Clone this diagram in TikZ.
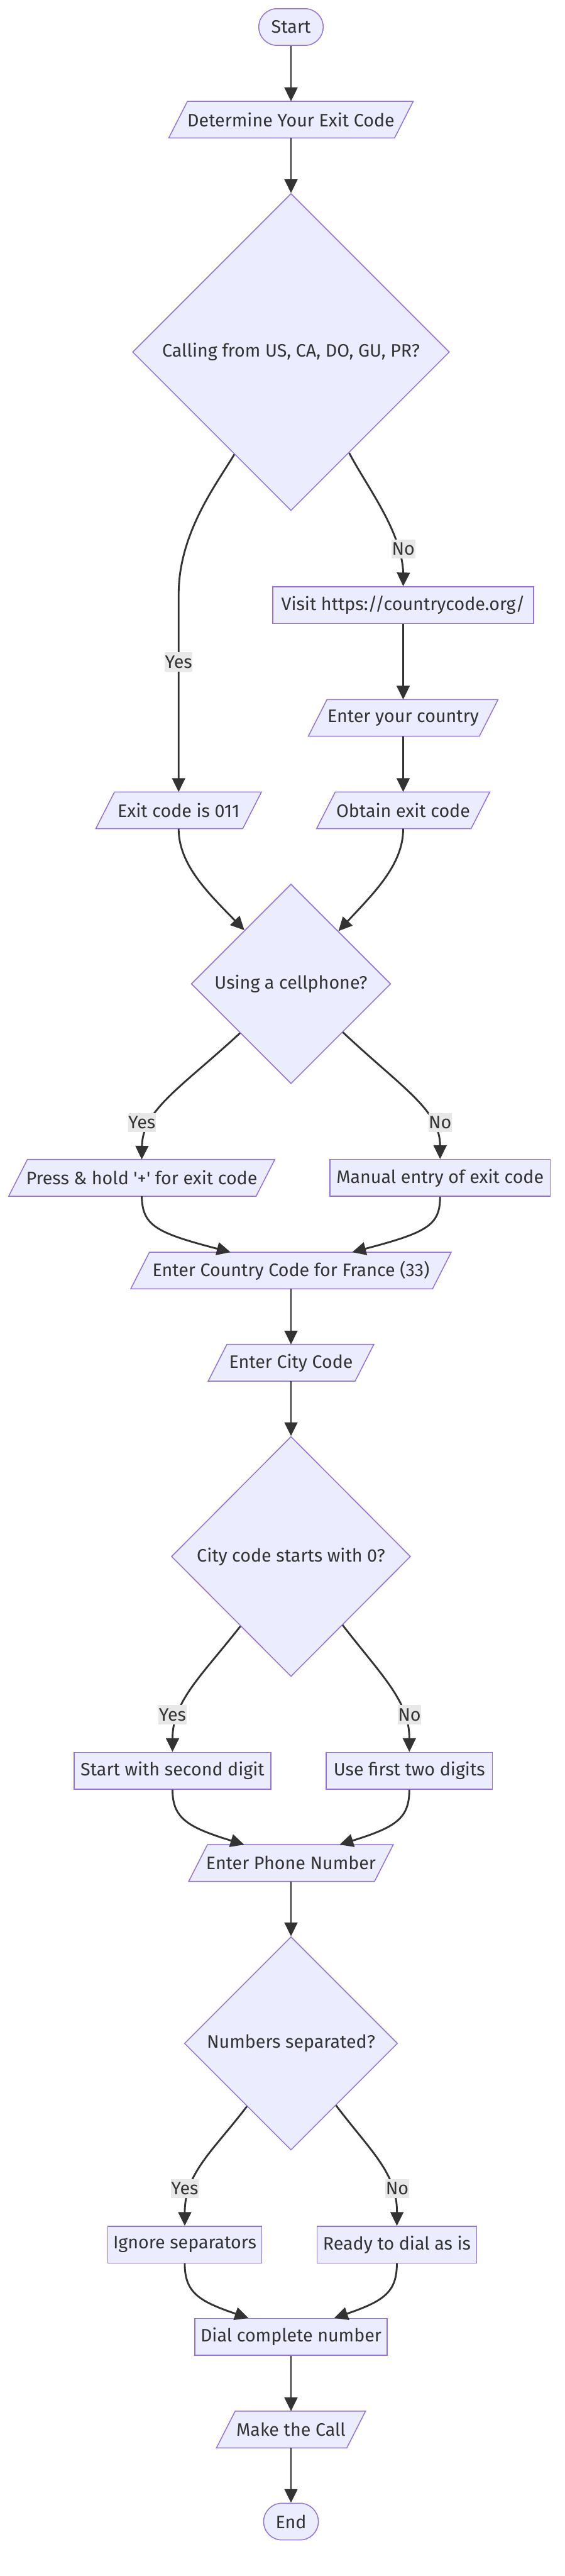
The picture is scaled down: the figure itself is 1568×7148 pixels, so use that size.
\documentclass[tikz,border=0pt]{standalone}
\usepackage{fontspec}
\setmainfont{Fira Sans}
\usetikzlibrary{shapes.geometric,arrows.meta,calc,backgrounds}
\definecolor{fillc}{HTML}{ECECFF}
\definecolor{bord}{HTML}{9370DB}
\definecolor{edgec}{HTML}{333333}
\definecolor{txt}{HTML}{333333}
\definecolor{lblc}{HTML}{E8E8E8}
\tikzset{
 base/.style={font=\fontsize{25}{30}\selectfont, text=txt, inner sep=0pt},
 boxnode/.style={base, rectangle, draw=bord, fill=fillc, line width=1.3pt, minimum height=51pt},
 termnode/.style={boxnode, rounded corners=25.5pt},
 paranode/.style={base, rectangle, minimum height=51pt, outer sep=0pt},
 parashape/.style={draw=bord, fill=fillc, line width=1.3pt, line join=miter},
 decnode/.style={base, diamond, draw=bord, fill=fillc, line width=1.3pt},
 conn/.style={draw=edgec, line width=2.5pt, -{Triangle[length=19pt,width=18pt]}},
 lbl/.style={base, fill=lblc, minimum height=26.5pt, inner xsep=0.5pt}
}
\begin{document}
\begin{tikzpicture}[x=0.5pt,y=-0.5pt]
\useasboundingbox (0,0) rectangle (1568,7148);
% nodes
\node[termnode, minimum width=89.5pt] (start) at (808,75) {Start};
\node[paranode, minimum width=339.5pt] (det) at (808,332) {Determine Your Exit Code};
\node[decnode, minimum width=440pt, minimum height=440pt] (d1) at (808,977) {Calling from US, CA, DO, GU, PR?};
\node[boxnode, minimum width=362.5pt] (visit) at (1119.5,1679) {Visit https://countrycode.org/};
\node[paranode, minimum width=263.5pt] (country) at (1119.5,1992) {Enter your country};
\node[paranode, minimum width=230pt] (exit) at (496,2248.5) {Exit code is 011};
\node[paranode, minimum width=240.5pt] (obtain) at (1119.5,2248.5) {Obtain exit code};
\node[decnode, minimum width=277pt, minimum height=277pt] (d2) at (808,2730) {Using a cellphone?};
\node[paranode, minimum width=369.5pt] (press) at (393.5,3268.5) {Press \& hold \textquotesingle+\textquotesingle{} for exit code};
\node[boxnode, minimum width=306pt] (manual) at (1222,3268.5) {Manual entry of exit code};
\node[paranode, minimum width=445pt] (france) at (808,3525.5) {Enter Country Code for France (33)};
\node[paranode, minimum width=230pt] (city) at (808,3781.5) {Enter City Code};
\node[decnode, minimum width=332pt, minimum height=333pt] (d3) at (808,4319) {City code starts with 0?};
\node[boxnode, minimum width=273pt] (second) at (479,4913.5) {Start with second digit};
\node[boxnode, minimum width=230.5pt] (firsttwo) at (1136.5,4913.5) {Use first two digits};
\node[paranode, minimum width=284pt] (phone) at (808,5169.5) {Enter Phone Number};
\node[decnode, minimum width=296pt, minimum height=296pt] (d4) at (808,5670) {Numbers separated?};
\node[boxnode, minimum width=214pt] (ignore) at (513,6228.5) {Ignore separators};
\node[boxnode, minimum width=222pt] (ready) at (1102,6228.5) {Ready to dial as is};
\node[boxnode, minimum width=267pt] (dial) at (808,6484.5) {Dial complete number};
\node[paranode, minimum width=207pt] (make) at (808,6741.5) {Make the Call};
\node[termnode, minimum width=76pt] (end) at (808,6997) {End};
% page background and parallelogram outlines
\begin{pgfonlayer}{background}
\fill[white] (0,0) rectangle (1568,7148);
\foreach \n in {det,country,exit,obtain,press,france,city,phone,make}
  \filldraw[parashape] (\n.south west) -- ([xshift=26pt]\n.north west) -- (\n.north east) -- ([xshift=-26pt]\n.south east) -- cycle;
\end{pgfonlayer}
% connectors
\draw[conn] (start.south) -- (det.north);
\draw[conn] (det.south) -- (d1.north);
\draw[conn] (d1.-119.35) .. controls (600,1345) and (496,1480) .. (496,1650) -- (exit.north);
\draw[conn] (d1.-60.3) .. controls (1023,1358) and (1120,1480) .. (1120,1600) -- (visit.north);
\draw[conn] (visit.south) -- (country.north);
\draw[conn] (country.south) -- (obtain.north);
\draw[conn] (exit.south) .. controls (496,2400) and (580,2480) .. (d2.131.5);
\draw[conn] (obtain.south) .. controls (1120,2400) and (1036,2480) .. (d2.48.1);
\draw[conn] (d2.-136.7) .. controls (500,3020) and (396,3080) .. (press.north);
\draw[conn] (d2.-43) .. controls (1118,3020) and (1222,3080) .. (manual.north);
\draw[conn] (press.south) .. controls (396,3400) and (430,3420) .. ($(france.north)+(-168,0)$);
\draw[conn] (manual.south) .. controls (1222,3400) and (1186,3420) .. ($(france.north)+(170,0)$);
\draw[conn] (france.south) -- (city.north);
\draw[conn] (city.south) -- (d3.north);
\draw[conn] (d3.-126.5) .. controls (560,4650) and (479,4720) .. (second.north);
\draw[conn] (d3.-53.3) .. controls (1060,4650) and (1137,4720) .. (firsttwo.north);
\draw[conn] (second.south) .. controls (479,5045) and (520,5070) .. ($(phone.north)+(-130,0)$);
\draw[conn] (firsttwo.south) .. controls (1137,5045) and (1100,5070) .. ($(phone.north)+(135,0)$);
\draw[conn] (phone.south) -- (d4.north);
\draw[conn] (d4.-125.9) .. controls (590,5970) and (513,6030) .. (ignore.north);
\draw[conn] (d4.-54.1) .. controls (1030,5970) and (1103,6030) .. (ready.north);
\draw[conn] (ignore.south) .. controls (513,6360) and (550,6385) .. ($(dial.north)+(-118,0)$);
\draw[conn] (ready.south) .. controls (1102,6360) and (1066,6385) .. ($(dial.north)+(120,0)$);
\draw[conn] (dial.south) -- (make.north);
\draw[conn] (make.south) -- (end.north);
% edge labels
\node[lbl] (l1) at (496,1837) {Yes};
\node[lbl] (l2) at (1120,1523) {No};
\node[lbl] (l3) at (394,3115) {Yes};
\node[lbl] (l4) at (1222,3115) {No};
\node[lbl] (l5) at (479,4758) {Yes};
\node[lbl] (l6) at (1137,4758) {No};
\node[lbl] (l7) at (513,6073) {Yes};
\node[lbl] (l8) at (1103,6073) {No};
\end{tikzpicture}
\end{document}
